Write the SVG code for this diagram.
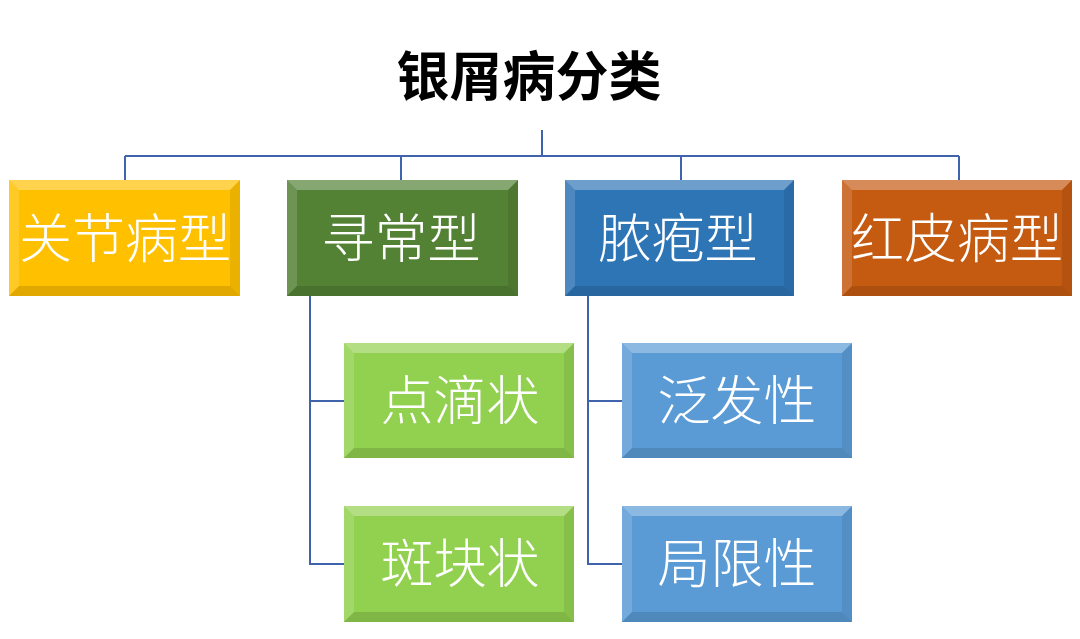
<svg xmlns="http://www.w3.org/2000/svg" width="1080" height="639" viewBox="0 0 1080 639">
<style>
.lbl{font-family:"Noto Sans CJK SC","Noto Sans",sans-serif;font-size:53px;font-weight:300;fill:#fff;text-anchor:middle;dominant-baseline:central}
.title{font-family:"Noto Sans CJK SC","Noto Sans",sans-serif;font-size:53px;font-weight:bold;fill:#000;text-anchor:middle;dominant-baseline:central}
.hi{fill:#fff;opacity:0.3}
.hi2{fill:#fff;opacity:0.15}
.sh{fill:#000;opacity:0.08}
.sh2{fill:#000;opacity:0.12}
.conn{stroke:#3f64ad;stroke-width:2;fill:none}
</style>
<rect width="1080" height="639" fill="#fff"/>
<g id="title"><text class="title" x="529" y="73">银屑病分类</text></g>
<g id="connectors">
<path class="conn" d="M542 130V156M125 156H959M125 156V180M401 156V180M681 156V180M959 156V180"/>
<path class="conn" d="M310 296V564H344M310 401H344"/>
<path class="conn" d="M588 296V564H622M588 401H622"/>
</g>
<g id="n1">
<rect x="9" y="180" width="231" height="116" fill="#FFC000"/>
<polygon class="hi" points="9,180 240,180 230,190 19,190"/>
<polygon class="hi2" points="9,180 19,190 19,286 9,296"/>
<polygon class="sh" points="240,180 240,296 230,286 230,190"/>
<polygon class="sh2" points="9,296 19,286 230,286 240,296"/>
<text class="lbl" x="125" y="235">关节病型</text>
</g>
<g id="n2">
<rect x="287" y="180" width="231" height="116" fill="#548235"/>
<polygon class="hi" points="287,180 518,180 508,190 297,190"/>
<polygon class="hi2" points="287,180 297,190 297,286 287,296"/>
<polygon class="sh" points="518,180 518,296 508,286 508,190"/>
<polygon class="sh2" points="287,296 297,286 508,286 518,296"/>
<text class="lbl" x="401" y="235">寻常型</text>
</g>
<g id="n3">
<rect x="565" y="180" width="229" height="116" fill="#2E75B6"/>
<polygon class="hi" points="565,180 794,180 784,190 575,190"/>
<polygon class="hi2" points="565,180 575,190 575,286 565,296"/>
<polygon class="sh" points="794,180 794,296 784,286 784,190"/>
<polygon class="sh2" points="565,296 575,286 784,286 794,296"/>
<text class="lbl" x="678" y="235">脓疱型</text>
</g>
<g id="n4">
<rect x="842" y="180" width="230" height="116" fill="#C55A11"/>
<polygon class="hi" points="842,180 1072,180 1062,190 852,190"/>
<polygon class="hi2" points="842,180 852,190 852,286 842,296"/>
<polygon class="sh" points="1072,180 1072,296 1062,286 1062,190"/>
<polygon class="sh2" points="842,296 852,286 1062,286 1072,296"/>
<text class="lbl" x="957" y="235">红皮病型</text>
</g>
<g id="n5">
<rect x="344" y="343" width="230" height="115" fill="#92D050"/>
<polygon class="hi" points="344,343 574,343 564,353 354,353"/>
<polygon class="hi2" points="344,343 354,353 354,448 344,458"/>
<polygon class="sh" points="574,343 574,458 564,448 564,353"/>
<polygon class="sh2" points="344,458 354,448 564,448 574,458"/>
<text class="lbl" x="460" y="397">点滴状</text>
</g>
<g id="n6">
<rect x="344" y="506" width="230" height="116" fill="#92D050"/>
<polygon class="hi" points="344,506 574,506 564,516 354,516"/>
<polygon class="hi2" points="344,506 354,516 354,612 344,622"/>
<polygon class="sh" points="574,506 574,622 564,612 564,516"/>
<polygon class="sh2" points="344,622 354,612 564,612 574,622"/>
<text class="lbl" x="460" y="560">斑块状</text>
</g>
<g id="n7">
<rect x="622" y="343" width="230" height="115" fill="#5B9BD5"/>
<polygon class="hi" points="622,343 852,343 842,353 632,353"/>
<polygon class="hi2" points="622,343 632,353 632,448 622,458"/>
<polygon class="sh" points="852,343 852,458 842,448 842,353"/>
<polygon class="sh2" points="622,458 632,448 842,448 852,458"/>
<text class="lbl" x="737" y="397">泛发性</text>
</g>
<g id="n8">
<rect x="622" y="506" width="230" height="116" fill="#5B9BD5"/>
<polygon class="hi" points="622,506 852,506 842,516 632,516"/>
<polygon class="hi2" points="622,506 632,516 632,612 622,622"/>
<polygon class="sh" points="852,506 852,622 842,612 842,516"/>
<polygon class="sh2" points="622,622 632,612 842,612 852,622"/>
<text class="lbl" x="737" y="560">局限性</text>
</g>
</svg>
